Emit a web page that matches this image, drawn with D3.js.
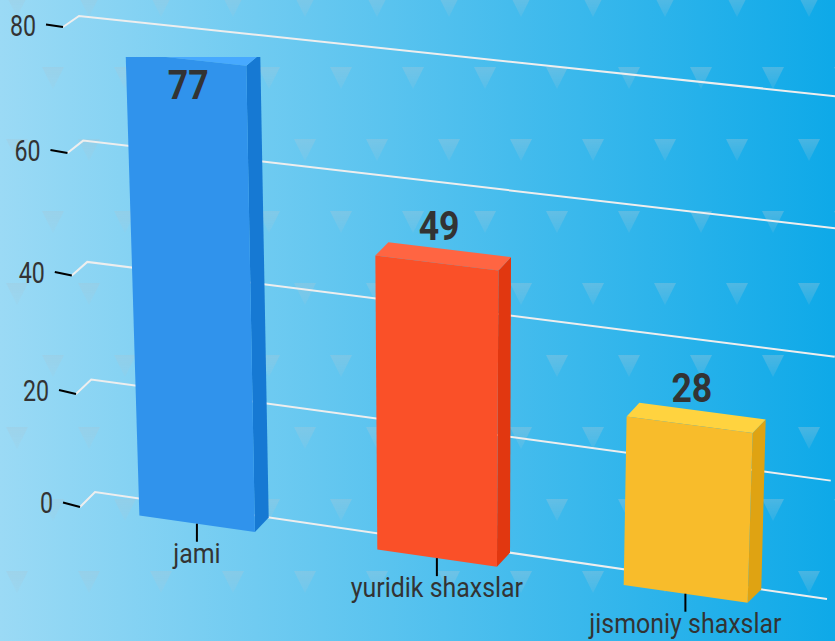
<!DOCTYPE html>
<html>
<head>
<meta charset="utf-8">
<script src="https://cdn.jsdelivr.net/npm/d3@7.9.0/dist/d3.min.js"></script>
<style>
  html, body { margin: 0; padding: 0; overflow: hidden; }
  svg { display: block; }
  text { font-family: Roboto, sans-serif; fill: #333; }
</style>
</head>
<body>
<div id="chart"></div>
<script>
// chart data
const categories = ['jami', 'yuridik shaxslar', 'jismoniy shaxslar'];
const values = [77, 49, 28];
const yTicks = [0, 20, 40, 60, 80];

const frontColors = ['#3093ec', '#fa5028', '#f8bc2b'];
const topColors = ['#47a9ff', '#ff6542', '#ffd33f'];
const sideColors = ['#1679d3', '#e13710', '#dfa312'];

const width = 835;
const height = 641;

/*
 * Perspective map of the unit square on a quad
 * corners go (0,0), (1,0), (1,1), (0,1)
 */
function quadMap(p0, p1, p2, p3) {
  const dx1 = p1[0] - p2[0], dx2 = p3[0] - p2[0], sx = p0[0] - p1[0] + p2[0] - p3[0];
  const dy1 = p1[1] - p2[1], dy2 = p3[1] - p2[1], sy = p0[1] - p1[1] + p2[1] - p3[1];
  const den = dx1 * dy2 - dx2 * dy1;
  const g = (sx * dy2 - dx2 * sy) / den;
  const h = (dx1 * sy - sx * dy1) / den;
  const a = p1[0] - p0[0] + g * p1[0], b = p3[0] - p0[0] + h * p3[0];
  const d = p1[1] - p0[1] + g * p1[1], e = p3[1] - p0[1] + h * p3[1];
  return (u, t) => {
    const w = g * u + h * t + 1;
    return [(a * u + b * t + p0[0]) / w, (d * u + e * t + p0[1]) / w];
  };
}

// the front of the plot box and the back wall
const front = quadMap([80, 507], [813, 612], [831, 110], [63, 27]);
const back = quadMap([95, 492], [827, 599], [843, 97], [79, 16]);

const xScale = d3.scaleBand().domain(categories).range([0, 1]).paddingInner(0.51).paddingOuter(0.255);
const yScale = d3.scaleLinear().domain([0, 80]).range([0, 1]);
// the grid bends a little more than the bars do
const gridScale = d3.scalePow().exponent(1.018).domain([0, 80]).range([0, 1]);
const tickDrop = d3.scaleLinear().domain([0, 80]).range([4.5, 2.5]);
const labelDrop = d3.scaleLinear().domain([0, 80]).range([6, 9]);

const plotTop = 57; // top faces get cut here

const svg = d3.select('#chart').append('svg')
  .attr('width', width)
  .attr('height', height);

const defs = svg.append('defs');

const grad = defs.append('linearGradient').attr('id', 'bg');
grad.append('stop').attr('offset', '0%').attr('stop-color', '#9bdaf5');
grad.append('stop').attr('offset', '100%').attr('stop-color', '#0ea9e8');

// triangles fade out toward the tip
const triGrad = defs.append('linearGradient')
  .attr('id', 'tri-fade')
  .attr('x1', 0).attr('y1', 0)
  .attr('x2', 0).attr('y2', 1);
triGrad.append('stop').attr('offset', '0%').attr('stop-color', '#a5c8d8').attr('stop-opacity', 0.36);
triGrad.append('stop').attr('offset', '100%').attr('stop-color', '#a5c8d8').attr('stop-opacity', 0.14);

const pat = defs.append('pattern')
  .attr('id', 'tri')
  .attr('patternUnits', 'userSpaceOnUse')
  .attr('width', 72)
  .attr('height', 144)
  .attr('y', -5);
pat.append('path').attr('d', 'M6,0H28L17,22Z').attr('fill', 'url(#tri-fade)');
pat.append('path').attr('d', 'M42,72H64L53,94Z').attr('fill', 'url(#tri-fade)');

defs.append('clipPath').attr('id', 'plot-clip')
  .append('rect')
  .attr('x', 0)
  .attr('y', plotTop)
  .attr('width', width)
  .attr('height', height - plotTop);

svg.append('rect').attr('width', width).attr('height', height).attr('fill', 'url(#bg)');
svg.append('rect').attr('width', width).attr('height', height).attr('fill', 'url(#tri)');

// grid on the left wall and back wall
const line = d3.line();
svg.selectAll('.grid')
  .data(yTicks)
  .enter()
  .append('path')
  .attr('class', 'grid')
  .attr('fill', 'none')
  .attr('stroke', '#eeeeee')
  .attr('stroke-width', 2)
  .attr('d', d => line([front(0, gridScale(d)), back(0, gridScale(d)), back(1, gridScale(d))]));

// y ticks
svg.selectAll('.y-tick')
  .data(yTicks)
  .enter()
  .append('line')
  .attr('class', 'y-tick')
  .attr('stroke', '#000')
  .attr('stroke-width', 2)
  .attr('x1', d => front(0, gridScale(d))[0] - 17)
  .attr('y1', d => front(0, gridScale(d))[1] - tickDrop(d))
  .attr('x2', d => front(0, gridScale(d))[0])
  .attr('y2', d => front(0, gridScale(d))[1]);

svg.selectAll('.y-label')
  .data(yTicks)
  .enter()
  .append('text')
  .attr('class', 'y-label')
  .attr('text-anchor', 'end')
  .attr('font-size', 29)
  .attr('transform', d => {
    const p = front(0, gridScale(d));
    return `translate(${p[0] - 27},${p[1] + labelDrop(d)}) scale(0.8,1)`;
  })
  .text(d => d);

// bars
const bars = svg.append('g').attr('clip-path', 'url(#plot-clip)');

values.forEach((val, i) => {
  const u0 = xScale(categories[i]);
  const u1 = u0 + xScale.bandwidth();
  const t = yScale(val);
  const poly = pts => pts.join(' ');

  bars.append('polygon')
    .attr('fill', sideColors[i])
    .attr('points', poly([front(u1, 0), back(u1, 0), back(u1, t), front(u1, t)]));
  bars.append('polygon')
    .attr('fill', topColors[i])
    .attr('points', poly([front(u0, t), front(u1, t), back(u1, t), back(u0, t)]));
  bars.append('polygon')
    .attr('fill', frontColors[i])
    .attr('points', poly([front(u0, 0), front(u1, 0), front(u1, t), front(u0, t)]));
});

// value labels, pushed inside when the bar reaches the top
svg.selectAll('.value')
  .data(values)
  .enter()
  .append('text')
  .attr('class', 'value')
  .attr('text-anchor', 'middle')
  .attr('font-size', 41)
  .attr('font-weight', 700)
  .attr('transform', (d, i) => {
    const p = front(xScale(categories[i]) + xScale.bandwidth() / 2, yScale(d));
    return `translate(${p[0] + 2.5},${Math.max(p[1] - 23, plotTop + 42)}) scale(0.87,1)`;
  })
  .text(d => d);

// category ticks and labels
categories.forEach(c => {
  const p = front(xScale(c) + xScale.bandwidth() / 2, 0);
  svg.append('line')
    .attr('stroke', '#000')
    .attr('stroke-width', 2)
    .attr('x1', p[0])
    .attr('x2', p[0])
    .attr('y1', p[1])
    .attr('y2', p[1] + 18);
  svg.append('text')
    .attr('text-anchor', 'middle')
    .attr('font-size', 28)
    .attr('transform', `translate(${p[0]},${p[1] + 39}) scale(0.89,1)`)
    .text(c);
});
</script>
</body>
</html>
